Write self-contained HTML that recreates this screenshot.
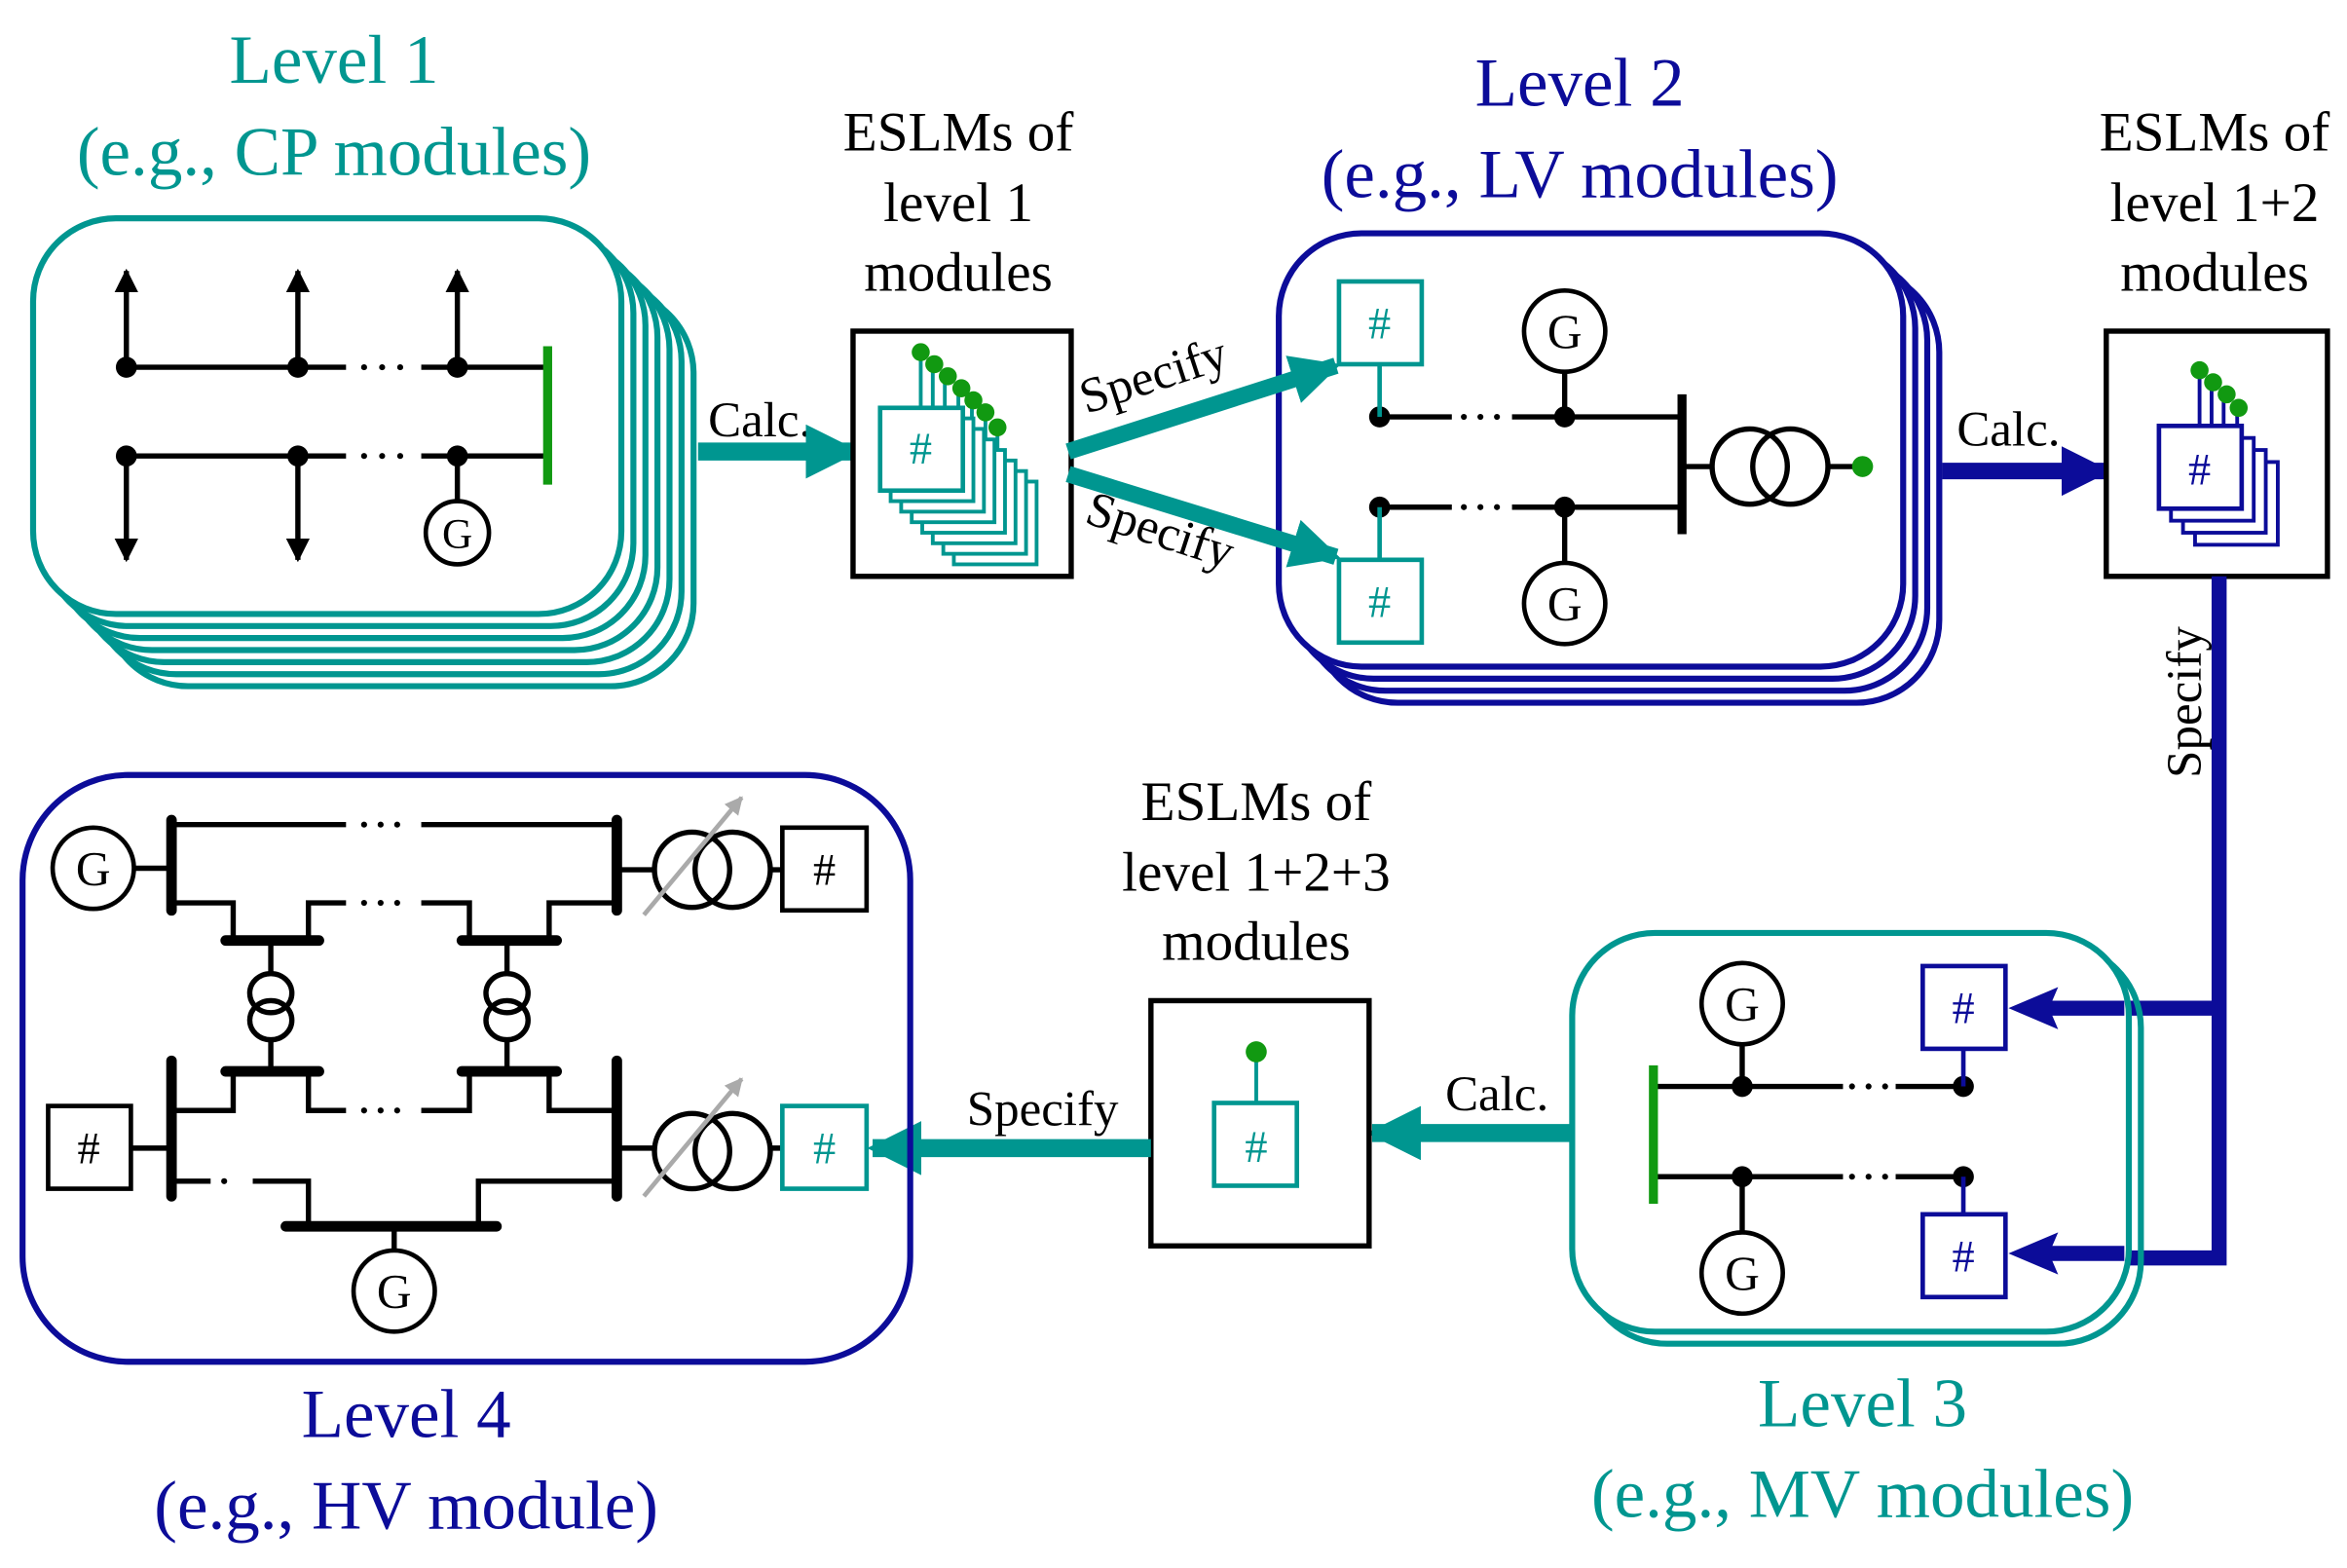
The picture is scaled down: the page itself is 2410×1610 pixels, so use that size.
<!DOCTYPE html>
<html><head><meta charset="utf-8"><style>
html,body{margin:0;padding:0;background:#fff;}
svg{display:block;}
text{font-family:"Liberation Serif",serif;}
</style></head><body>
<svg width="2410" height="1610" viewBox="0 0 1560 1042" xmlns="http://www.w3.org/2000/svg">
<defs>
<marker id="ah" viewBox="0 0 10 10" refX="9" refY="5" markerWidth="3" markerHeight="3" orient="auto"><path d="M0,0L10,5L0,10z" fill="#009690"/></marker>
<marker id="ahn" viewBox="0 0 10 10" refX="9" refY="5" markerWidth="3" markerHeight="3" orient="auto"><path d="M0,0L10,5L0,10z" fill="#0c0c99"/></marker>
<marker id="ahg" viewBox="0 0 10 10" refX="9" refY="5" markerWidth="4" markerHeight="4" orient="auto"><path d="M0,0L10,5L0,10z" fill="#aaa"/></marker>
<marker id="ahk" viewBox="0 0 10 10" refX="9" refY="5" markerWidth="4.5" markerHeight="4.5" orient="auto"><path d="M0,0L10,5L0,10z" fill="#000"/></marker>
</defs>

<!-- Titles -->
<g font-size="46" text-anchor="middle" fill="#009690">
<text x="222" y="55">Level 1</text>
<text x="222" y="116">(e.g., CP modules)</text>
<text x="1238" y="948">Level 3</text>
<text x="1238" y="1008">(e.g., MV modules)</text>
</g>
<g font-size="46" text-anchor="middle" fill="#0c0c99">
<text x="1050" y="70">Level 2</text>
<text x="1050" y="131">(e.g., LV modules)</text>
<text x="270" y="955">Level 4</text>
<text x="270" y="1016">(e.g., HV module)</text>
</g>
<g font-size="37" text-anchor="middle" fill="#000">
<text x="637" y="100">ESLMs of</text><text x="637" y="147">level 1</text><text x="637" y="193">modules</text>
<text x="1472" y="100">ESLMs of</text><text x="1472" y="147">level 1+2</text><text x="1472" y="193">modules</text>
<text x="835" y="545">ESLMs of</text><text x="835" y="592">level 1+2+3</text><text x="835" y="638">modules</text>
</g>

<!-- Level 1 stack -->
<g fill="#fff" stroke="#009690" stroke-width="4">
<rect x="70" y="193" width="391" height="263" rx="55"/>
<rect x="62" y="185" width="391" height="263" rx="55"/>
<rect x="54" y="177" width="391" height="263" rx="55"/>
<rect x="46" y="169" width="391" height="263" rx="55"/>
<rect x="38" y="161" width="391" height="263" rx="55"/>
<rect x="30" y="153" width="391" height="263" rx="55"/>
<rect x="22" y="145" width="391" height="263" rx="55"/>
</g>
<g stroke="#000" stroke-width="3.5" fill="none">
<path d="M84,244H230M280,244H363M84,303H230M280,303H363"/>
<line x1="84" y1="244" x2="84" y2="180" marker-end="url(#ahk)"/>
<line x1="198" y1="244" x2="198" y2="180" marker-end="url(#ahk)"/>
<line x1="304" y1="244" x2="304" y2="180" marker-end="url(#ahk)"/>
<line x1="84" y1="303" x2="84" y2="372" marker-end="url(#ahk)"/>
<line x1="198" y1="303" x2="198" y2="372" marker-end="url(#ahk)"/>
<path d="M304,303V332"/>
<circle cx="304" cy="354" r="21" stroke-width="3"/>
</g>
<g stroke="#000" stroke-width="4" stroke-linecap="round" stroke-dasharray="0 12"><line x1="242" y1="244" x2="270" y2="244"/><line x1="242" y1="303" x2="270" y2="303"/></g>
<g fill="#000"><circle cx="84" cy="244" r="7"/><circle cx="198" cy="244" r="7"/><circle cx="304" cy="244" r="7"/>
<circle cx="84" cy="303" r="7"/><circle cx="198" cy="303" r="7"/><circle cx="304" cy="303" r="7"/></g>
<text x="304" y="364" font-size="28" text-anchor="middle">G</text>
<line x1="364" y1="230" x2="364" y2="322" stroke="#119911" stroke-width="6"/>

<!-- Calc 1 -->
<text x="505" y="290" font-size="33" text-anchor="middle">Calc.</text>
<line x1="464" y1="300" x2="568" y2="300" stroke="#009690" stroke-width="12" marker-end="url(#ah)"/>

<!-- ESLM box 1 -->
<rect x="567" y="220" width="145" height="163" fill="#fff" stroke="#000" stroke-width="3.5"/>
<g stroke="#009690" stroke-width="2.5" fill="#fff">
<line x1="612" y1="234" x2="612" y2="278"/><line x1="620" y1="241" x2="620" y2="285"/><line x1="628" y1="248" x2="628" y2="292"/>
<line x1="637" y1="256" x2="637" y2="299"/><line x1="646" y1="264" x2="646" y2="306"/><line x1="655" y1="272" x2="655" y2="313"/><line x1="663" y1="285" x2="663" y2="320"/>
<rect x="634" y="320" width="55" height="55"/><rect x="627" y="313" width="55" height="55"/><rect x="620" y="306" width="55" height="55"/>
<rect x="613" y="299" width="55" height="55"/><rect x="606" y="292" width="55" height="55"/><rect x="599" y="285" width="55" height="55"/>
<rect x="592" y="278" width="55" height="55" /><rect x="585" y="271" width="55" height="55" stroke-width="3"/>
</g>
<text x="612" y="308" font-size="30" text-anchor="middle" fill="#009690">#</text>
<g fill="#119911"><circle cx="612" cy="234" r="6"/><circle cx="621" cy="242" r="6"/><circle cx="630" cy="250" r="6"/><circle cx="639" cy="258" r="6"/><circle cx="647" cy="266" r="6"/><circle cx="655" cy="274" r="6"/><circle cx="663" cy="284" r="6"/></g>

<!-- Level 2 stack -->
<g fill="#fff" stroke="#0c0c99" stroke-width="4">
<rect x="874" y="179" width="415" height="288" rx="55"/>
<rect x="866" y="171" width="415" height="288" rx="55"/>
<rect x="858" y="163" width="415" height="288" rx="55"/>
<rect x="850" y="155" width="415" height="288" rx="55"/>
</g>
<g stroke="#000" stroke-width="3.5" fill="none">
<path d="M917,277H965M1005,277H1118M917,337H965M1005,337H1118"/>
<path d="M1040,277V247M1040,337V374M1118,310H1138M1215,310H1238"/>
<circle cx="1040" cy="220" r="27" stroke-width="3"/><circle cx="1040" cy="401" r="27" stroke-width="3"/>
<circle cx="1163" cy="310" r="25"/><circle cx="1190" cy="310" r="25"/>
</g>
<g stroke="#000" stroke-width="4" stroke-linecap="round" stroke-dasharray="0 11"><line x1="973" y1="277" x2="997" y2="277"/><line x1="973" y1="337" x2="997" y2="337"/></g>
<line x1="1118" y1="262" x2="1118" y2="355" stroke="#000" stroke-width="6"/>
<g fill="#000"><circle cx="917" cy="277" r="7"/><circle cx="1040" cy="277" r="7"/><circle cx="917" cy="337" r="7"/><circle cx="1040" cy="337" r="7"/></g>
<text x="1040" y="231" font-size="32" text-anchor="middle">G</text><text x="1040" y="412" font-size="32" text-anchor="middle">G</text>
<circle cx="1238" cy="310" r="7" fill="#119911"/>
<g stroke="#009690" stroke-width="3" fill="#fff">
<line x1="917" y1="242" x2="917" y2="277"/><line x1="917" y1="337" x2="917" y2="372"/>
<rect x="890" y="187" width="55" height="55"/><rect x="890" y="372" width="55" height="55"/></g>
<g font-size="30" text-anchor="middle" fill="#009690"><text x="917" y="225">#</text><text x="917" y="410">#</text></g>

<!-- Specify arrows -->
<line x1="710" y1="300" x2="888" y2="243" stroke="#009690" stroke-width="11" marker-end="url(#ah)"/>
<line x1="710" y1="315" x2="888" y2="370" stroke="#009690" stroke-width="11" marker-end="url(#ah)"/>
<text font-size="33" transform="translate(722,275) rotate(-18)">Specify</text>
<text font-size="33" transform="translate(720,347) rotate(18)">Specify</text>

<!-- Calc 2 -->
<text x="1335" y="296" font-size="33" text-anchor="middle">Calc.</text>
<line x1="1291" y1="313" x2="1400" y2="313" stroke="#0c0c99" stroke-width="11" marker-end="url(#ahn)"/>

<!-- ESLM box 2 -->
<rect x="1400" y="220" width="147" height="163" fill="#fff" stroke="#000" stroke-width="3.5"/>
<g stroke="#0c0c99" stroke-width="2.5" fill="#fff">
<line x1="1462" y1="245" x2="1462" y2="283"/><line x1="1470" y1="252" x2="1470" y2="290"/><line x1="1478" y1="260" x2="1478" y2="297"/><line x1="1487" y1="270" x2="1487" y2="304"/>
<rect x="1459" y="307" width="55" height="55"/><rect x="1451" y="299" width="55" height="55"/><rect x="1443" y="291" width="55" height="55"/>
<rect x="1435" y="283" width="55" height="55" stroke-width="3"/></g>
<text x="1462" y="322" font-size="30" text-anchor="middle" fill="#0c0c99">#</text>
<g fill="#119911"><circle cx="1462" cy="246" r="6"/><circle cx="1471" cy="254" r="6"/><circle cx="1480" cy="262" r="6"/><circle cx="1488" cy="271" r="6"/></g>

<!-- Specify vertical -->
<path d="M1475,383V836H1360M1475,670H1360" fill="none" stroke="#0c0c99" stroke-width="10"/>
<text font-size="33" transform="translate(1463,517) rotate(-90)">Specify</text>

<!-- Level 3 -->
<g fill="none" stroke="#009690" stroke-width="4">
<rect x="1053" y="628" width="370" height="265" rx="55"/>
<rect x="1045" y="620" width="370" height="265" rx="55" fill="#fff"/>
</g>
<path d="M1360,670H1412M1360,833H1412" stroke="#0c0c99" stroke-width="10"/>
<path d="M1335,670L1368,656L1362,670L1368,684z M1335,833L1368,819L1362,833L1368,847z" fill="#0c0c99"/>
<g stroke="#000" stroke-width="3.5" fill="none">
<path d="M1099,722H1225M1260,722H1305M1099,782H1225M1260,782H1305M1158,722V694M1158,782V819"/>
<circle cx="1158" cy="667" r="27" stroke-width="3"/><circle cx="1158" cy="846" r="27" stroke-width="3"/>
</g>
<g stroke="#000" stroke-width="4" stroke-linecap="round" stroke-dasharray="0 11"><line x1="1231" y1="722" x2="1255" y2="722"/><line x1="1231" y1="782" x2="1255" y2="782"/></g>
<g fill="#000"><circle cx="1158" cy="722" r="7"/><circle cx="1305" cy="722" r="7"/><circle cx="1158" cy="782" r="7"/><circle cx="1305" cy="782" r="7"/></g>
<text x="1158" y="678" font-size="32" text-anchor="middle">G</text><text x="1158" y="857" font-size="32" text-anchor="middle">G</text>
<line x1="1099" y1="708" x2="1099" y2="800" stroke="#119911" stroke-width="6"/>
<g stroke="#0c0c99" stroke-width="3" fill="#fff">
<line x1="1305" y1="697" x2="1305" y2="722"/><line x1="1305" y1="782" x2="1305" y2="807"/>
<rect x="1278" y="642" width="55" height="55"/><rect x="1278" y="807" width="55" height="55"/></g>
<g font-size="30" text-anchor="middle" fill="#0c0c99"><text x="1305" y="680">#</text><text x="1305" y="845">#</text></g>

<!-- Calc 3 -->
<text x="995" y="738" font-size="33" text-anchor="middle">Calc.</text>
<line x1="1045" y1="753" x2="912" y2="753" stroke="#009690" stroke-width="12" marker-end="url(#ah)"/>

<!-- ESLM box 3 -->
<rect x="765" y="665" width="145" height="163" fill="#fff" stroke="#000" stroke-width="3.5"/>
<line x1="835" y1="700" x2="835" y2="733" stroke="#009690" stroke-width="2.5"/>
<circle cx="835" cy="699" r="7" fill="#119911"/>
<rect x="807" y="733" width="55" height="55" fill="#fff" stroke="#009690" stroke-width="3"/>
<text x="835" y="772" font-size="30" text-anchor="middle" fill="#009690">#</text>

<!-- Specify 4 -->
<text x="693" y="748" font-size="33" text-anchor="middle">Specify</text>
<line x1="765" y1="763" x2="580" y2="763" stroke="#009690" stroke-width="12" marker-end="url(#ah)"/>

<!-- Level 4 -->
<rect x="15" y="515" width="590" height="390" rx="70" fill="none" stroke="#0c0c99" stroke-width="4"/>
<g stroke="#000" stroke-width="3.5" fill="none">
<circle cx="62" cy="577" r="27" stroke-width="3"/>
<path d="M89,577H114M114,548H230M280,548H410"/>
<path d="M114,600H155V625M205,625V600H230M280,600H312V625M365,625V600H410"/>
<path d="M180,625V648M180,690V712M337,625V648M337,690V712"/>
<ellipse cx="180" cy="660" rx="14" ry="13"/><ellipse cx="180" cy="678" rx="14" ry="13"/>
<ellipse cx="337" cy="660" rx="14" ry="13"/><ellipse cx="337" cy="678" rx="14" ry="13"/>
<path d="M155,712V738H114M205,712V738H230M280,738H312V712M365,712V738H410"/>
<path d="M87,763H114M114,785H140M168,785H205V815M318,815V785H410"/>
<path d="M262,815V831"/><circle cx="262" cy="858" r="27" stroke-width="3"/>
<path d="M410,578H435M512,578H520M410,763H435M512,763H520"/>
<circle cx="460" cy="578" r="25"/><circle cx="487" cy="578" r="25"/>
<circle cx="460" cy="765" r="25"/><circle cx="487" cy="765" r="25"/>
<rect x="520" y="550" width="56" height="55" stroke-width="3"/>
<rect x="32" y="735" width="55" height="55" stroke-width="3"/>
</g>
<g stroke="#000" stroke-width="4" stroke-linecap="round" stroke-dasharray="0 11"><line x1="242" y1="548" x2="266" y2="548"/><line x1="242" y1="600" x2="266" y2="600"/><line x1="242" y1="738" x2="266" y2="738"/><line x1="149" y1="785" x2="160" y2="785"/></g>
<g stroke="#000" stroke-width="7" stroke-linecap="round">
<line x1="114" y1="545" x2="114" y2="605"/><line x1="410" y1="545" x2="410" y2="605"/>
<line x1="150" y1="625" x2="212" y2="625"/><line x1="307" y1="625" x2="370" y2="625"/>
<line x1="150" y1="712" x2="212" y2="712"/><line x1="307" y1="712" x2="370" y2="712"/>
<line x1="114" y1="705" x2="114" y2="795"/><line x1="410" y1="705" x2="410" y2="795"/>
<line x1="190" y1="815" x2="330" y2="815"/>
</g>
<line x1="428" y1="608" x2="493" y2="530" stroke="#aaa" stroke-width="3" marker-end="url(#ahg)"/>
<line x1="428" y1="795" x2="493" y2="717" stroke="#aaa" stroke-width="3" marker-end="url(#ahg)"/>
<rect x="520" y="735" width="56" height="55" fill="#fff" stroke="#009690" stroke-width="3"/>
<text x="548" y="588" font-size="30" text-anchor="middle">#</text>
<text x="59" y="773" font-size="30" text-anchor="middle">#</text>
<text x="548" y="773" font-size="30" text-anchor="middle" fill="#009690">#</text>
<text x="62" y="588" font-size="32" text-anchor="middle">G</text>
<text x="262" y="869" font-size="32" text-anchor="middle">G</text>
</svg>
</body></html>
